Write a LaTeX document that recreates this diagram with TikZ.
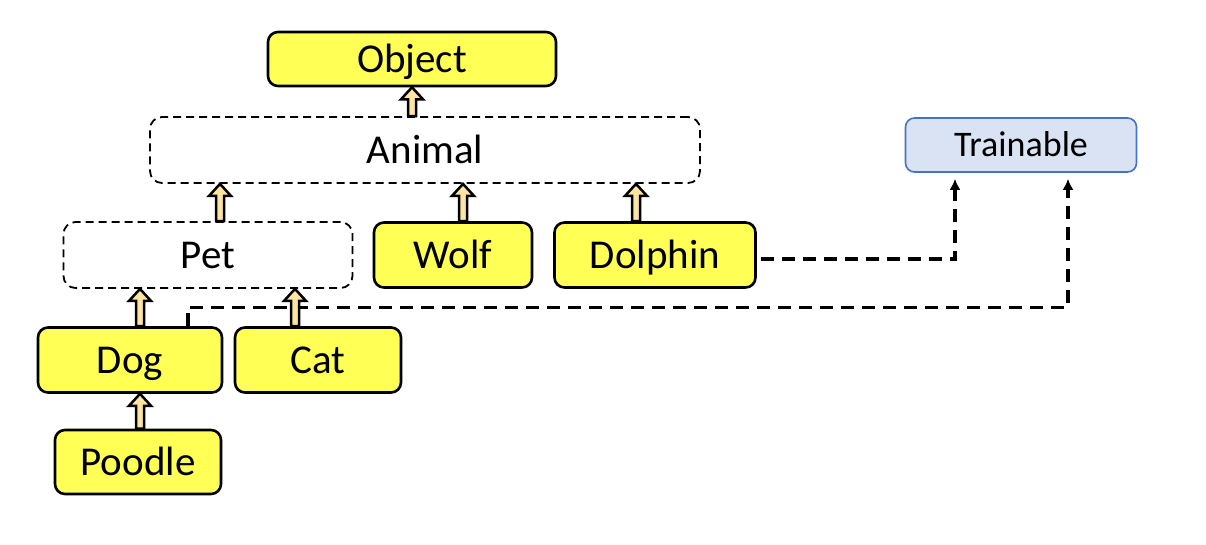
\documentclass[tikz,border=0pt]{standalone}
\usepackage{fontspec}
\setmainfont{Carlito}
\usetikzlibrary{calc,arrows.meta}
\definecolor{boxyellow}{RGB}{255,255,85}
\definecolor{arrfill}{RGB}{253,228,160}
\definecolor{trfill}{RGB}{218,227,243}
\definecolor{trdraw}{RGB}{68,114,196}
\tikzset{
  lbl/.style={font=\fontsize{41}{41}\selectfont, text height=26.4pt, text depth=0pt, inner sep=0pt},
  yellowbox/.style={lbl, fill=boxyellow, draw=black, line width=2.6pt, rounded corners=10pt},
  dashbox/.style={lbl, draw=black, line width=1.8pt, dash pattern=on 8pt off 5pt, rounded corners=12pt},
  trainbox/.style={font=\fontsize{36}{36}\selectfont, text height=23.2pt, text depth=0pt, inner sep=0pt,
     fill=trfill, draw=trdraw, line width=1.6pt, rounded corners=9pt},
  fatarr/.style={draw=black, fill=arrfill, line width=2.5pt, line join=miter},
  dep/.style={draw=black, line width=3.2pt, dash pattern=on 13pt off 8pt, -{Latex[length=11pt,width=11pt]}},
}
\newcommand\fatarrow[2]{%
  \draw[fatarr] ($(#1)+(-4,0)$) -- ($(#2)+(-4,12)$) -- ($(#2)+(-11,12)$) -- (#2)
    -- ($(#2)+(11,12)$) -- ($(#2)+(4,12)$) -- ($(#1)+(4,0)$) -- cycle;}
\begin{document}
\begin{tikzpicture}[x=1pt,y=-1pt]
\useasboundingbox (0,0) rectangle (1206,544);
% nodes
\node[yellowbox, minimum width=288pt, minimum height=54pt] (Object) at (412,59) {Object};
\node[dashbox, minimum width=550pt, minimum height=66pt] (Animal) at (425,150) {Animal};
\node[trainbox, minimum width=231pt, minimum height=54pt] (Trainable) at (1021,145) {Trainable};
\node[dashbox, minimum width=289pt, minimum height=66pt] (Pet) at (208,255) {Pet};
\node[yellowbox, minimum width=158pt, minimum height=65pt] (Wolf) at (453,255) {Wolf};
\node[yellowbox, minimum width=201pt, minimum height=65pt] (Dolphin) at (655,255) {Dolphin};
\node[yellowbox, minimum width=184pt, minimum height=65pt] (Dog) at (130,360) {Dog};
\node[yellowbox, minimum width=166pt, minimum height=65pt] (Cat) at (318,360) {Cat};
\node[yellowbox, minimum width=166pt, minimum height=64pt] (Poodle) at (138,462) {Poodle};
% dashed dependency connectors
\coordinate (t1) at ($(Trainable.south)+(-66,6)$);
\coordinate (t2) at ($(Trainable.south)+(47,6)$);
\coordinate (dg) at ($(Dog.north)+(58,0)$);
\coordinate (dc) at ($(dg)+(0,-19)$);
\coordinate (dl) at ($(Dolphin.east)+(4,4)$);
\draw[dep] (dl) -| (t1);
\draw[dep] (dg) -- (dc) -| (t2);
% inheritance arrows
\coordinate (aO) at ($(Animal.north)+(-13,0)$);
\coordinate (aP) at ($(Pet.north)+(12,0)$);
\coordinate (aW) at ($(Wolf.north)+(10,0)$);
\coordinate (aD) at ($(Dolphin.north)+(-19,0)$);
\coordinate (aG) at ($(Dog.north)+(10,0)$);
\coordinate (aC) at ($(Cat.north)+(-23,0)$);
\coordinate (aQ) at ($(Poodle.north)+(2,0)$);
\coordinate (eO) at (aO |- Object.south);
\coordinate (eP) at (aP |- Animal.south);
\coordinate (eW) at (aW |- Animal.south);
\coordinate (eD) at (aD |- Animal.south);
\coordinate (eG) at (aG |- Pet.south);
\coordinate (eC) at (aC |- Pet.south);
\coordinate (eQ) at (aQ |- Dog.south);
\fatarrow{aO}{eO}
\fatarrow{aP}{eP}
\fatarrow{aW}{eW}
\fatarrow{aD}{eD}
\fatarrow{aG}{eG}
\fatarrow{aC}{eC}
\fatarrow{aQ}{eQ}
\end{tikzpicture}
\end{document}
